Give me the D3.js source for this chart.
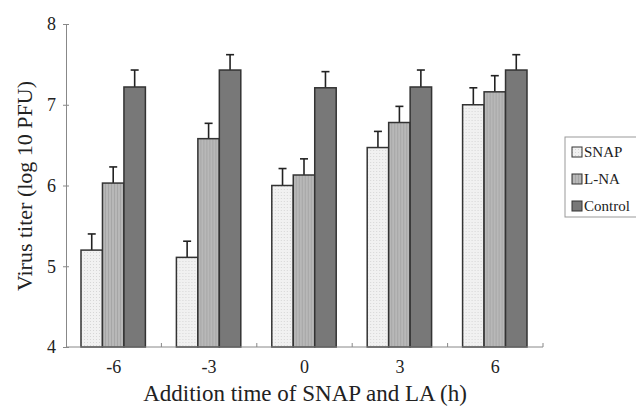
<!DOCTYPE html>
<html>
<head>
<meta charset="utf-8">
<script src="https://cdn.jsdelivr.net/npm/d3@7"></script>
<style>
  body { margin: 0; background: #fff; }
</style>
</head>
<body>
<div id="vis"></div>
<script>
var categories = ['-6', '-3', '0', '3', '6'];
var series = ['SNAP', 'L-NA', 'Control'];
var snap = [5.20, 5.11, 6.00, 6.47, 7.00];
var lna = [6.03, 6.58, 6.13, 6.78, 7.16];
var control = [7.22, 7.43, 7.21, 7.22, 7.43];
var snapErr = [0.20, 0.20, 0.21, 0.20, 0.21];
var lnaErr = [0.20, 0.19, 0.20, 0.20, 0.20];
var controlErr = [0.21, 0.19, 0.20, 0.21, 0.19];
var yTicks = [4, 5, 6, 7, 8];

var font = "'Liberation Serif', 'DejaVu Serif', serif";
var margin = {left: 66, right: 93, top: 24, bottom: 61};
var width = 636 - margin.left - margin.right;
var height = 408 - margin.top - margin.bottom;

var svg = d3.select('#vis')
    .append('svg')
        .attr('width', 636)
        .attr('height', 408)
        .style('display', 'block')
        .style('font-family', font);

// fills that imitate the scanned textures
var defs = svg.append('defs');
var dots = defs.append('pattern')
    .attr('id', 'p-snap').attr('patternUnits', 'userSpaceOnUse')
    .attr('width', 3).attr('height', 3);
dots.append('rect').attr('width', 3).attr('height', 3).attr('fill', '#f1f1f1');
dots.append('rect').attr('width', 1).attr('height', 1).attr('fill', '#d6d6d6');
var stripes = defs.append('pattern')
    .attr('id', 'p-lna').attr('patternUnits', 'userSpaceOnUse')
    .attr('width', 3).attr('height', 4);
stripes.append('rect').attr('width', 3).attr('height', 4).attr('fill', '#b8b8b8');
stripes.append('rect').attr('width', 1).attr('height', 4).attr('fill', '#a6a6a6');
var fills = {'SNAP': 'url(#p-snap)', 'L-NA': 'url(#p-lna)', 'Control': '#787878'};

var g = svg.append('g')
    .attr('transform', 'translate(' + margin.left + ',' + margin.top + ')');

var x = d3.scaleBand()
    .domain(categories)
    .range([0, width]);

var x1 = d3.scaleBand()
    .domain(series)
    .range([15, x.bandwidth() - 16]);

var y = d3.scaleLinear()
    .domain([4, 8])
    .range([height, 0]);

var data = categories.map(function(c, i) {
    return [
        {cat: c, key: 'SNAP', v: snap[i], e: snapErr[i]},
        {cat: c, key: 'L-NA', v: lna[i], e: lnaErr[i]},
        {cat: c, key: 'Control', v: control[i], e: controlErr[i]}
    ];
});

var groups = g.append('g')
    .selectAll('g')
    .data(data)
    .enter()
    .append('g')
        .attr('transform', function(d, i) { return 'translate(' + x(categories[i]) + ',0)'; });

// error bars first so the bars sit over their base
var err = groups.selectAll('g.err')
    .data(function(d) { return d; })
    .enter()
    .append('g')
        .attr('class', 'err')
        .attr('stroke', '#222')
        .attr('stroke-width', 1.6);
err.append('line')
    .attr('x1', function(d) { return x1(d.key) + x1.bandwidth() / 2; })
    .attr('x2', function(d) { return x1(d.key) + x1.bandwidth() / 2; })
    .attr('y1', function(d) { return y(d.v); })
    .attr('y2', function(d) { return y(d.v + d.e); });
err.append('line')
    .attr('x1', function(d) { return x1(d.key) + x1.bandwidth() / 2 - 4; })
    .attr('x2', function(d) { return x1(d.key) + x1.bandwidth() / 2 + 4; })
    .attr('y1', function(d) { return y(d.v + d.e); })
    .attr('y2', function(d) { return y(d.v + d.e); });

groups.selectAll('rect')
    .data(function(d) { return d; })
    .enter()
    .append('rect')
        .attr('x', function(d) { return x1(d.key); })
        .attr('y', function(d) { return y(d.v); })
        .attr('width', x1.bandwidth())
        .attr('height', function(d) { return y(4) - y(d.v); })
        .attr('fill', function(d) { return fills[d.key]; })
        .attr('stroke', '#333')
        .attr('stroke-width', 1.5);

// y axis
var yAxis = g.append('g')
    .call(d3.axisLeft(y).tickValues(yTicks).tickFormat(d3.format('d'))
        .tickSizeInner(3).tickSizeOuter(0).tickPadding(7))
    .attr('font-family', null)
    .attr('font-size', 18);
yAxis.selectAll('.tick line').attr('x2', 3).attr('x1', -3).attr('stroke', '#888');
yAxis.select('.domain').attr('stroke', '#888');
yAxis.selectAll('text').attr('fill', '#222');

// x axis, ticks on the band boundaries pointing up
var xAxis = g.append('g')
    .attr('transform', 'translate(0,' + height + ')');
xAxis.append('line')
    .attr('x1', 0).attr('x2', width)
    .attr('stroke', '#888');
xAxis.selectAll('line.bt')
    .data(categories)
    .enter()
    .append('line')
        .attr('class', 'bt')
        .attr('x1', function(d) { return x(d) + x.bandwidth(); })
        .attr('x2', function(d) { return x(d) + x.bandwidth(); })
        .attr('y1', 0).attr('y2', -4)
        .attr('stroke', '#888');
xAxis.selectAll('text')
    .data(categories)
    .enter()
    .append('text')
        .attr('x', function(d) { return x(d) + x.bandwidth() / 2; })
        .attr('y', 26)
        .attr('text-anchor', 'middle')
        .attr('font-size', 18)
        .attr('fill', '#222')
        .text(function(d) { return d; });

// axis titles
svg.append('text')
    .attr('x', 305)
    .attr('y', 401)
    .attr('text-anchor', 'middle')
    .attr('font-size', 23)
    .attr('fill', '#222')
    .text('Addition time of SNAP and LA (h)');

svg.append('text')
    .attr('transform', 'translate(32,186) rotate(-90)')
    .attr('text-anchor', 'middle')
    .attr('font-size', 22)
    .attr('fill', '#222')
    .text('Virus titer (log 10 PFU)');

// legend
var legend = svg.append('g')
    .attr('transform', 'translate(565,137)');
legend.append('rect')
    .attr('width', 76).attr('height', 80)
    .attr('fill', '#fff')
    .attr('stroke', '#999');
var items = legend.selectAll('g.item')
    .data(series)
    .enter()
    .append('g')
        .attr('class', 'item')
        .attr('transform', function(d, i) { return 'translate(7,' + (15 + i * 27) + ')'; });
items.append('rect')
    .attr('x', 0).attr('y', -5)
    .attr('width', 10).attr('height', 10)
    .attr('fill', function(d) { return fills[d]; })
    .attr('stroke', '#333');
items.append('text')
    .attr('x', 12)
    .attr('y', 5)
    .attr('font-size', 15)
    .attr('fill', '#222')
    .text(function(d) { return d; });
</script>
</body>
</html>
